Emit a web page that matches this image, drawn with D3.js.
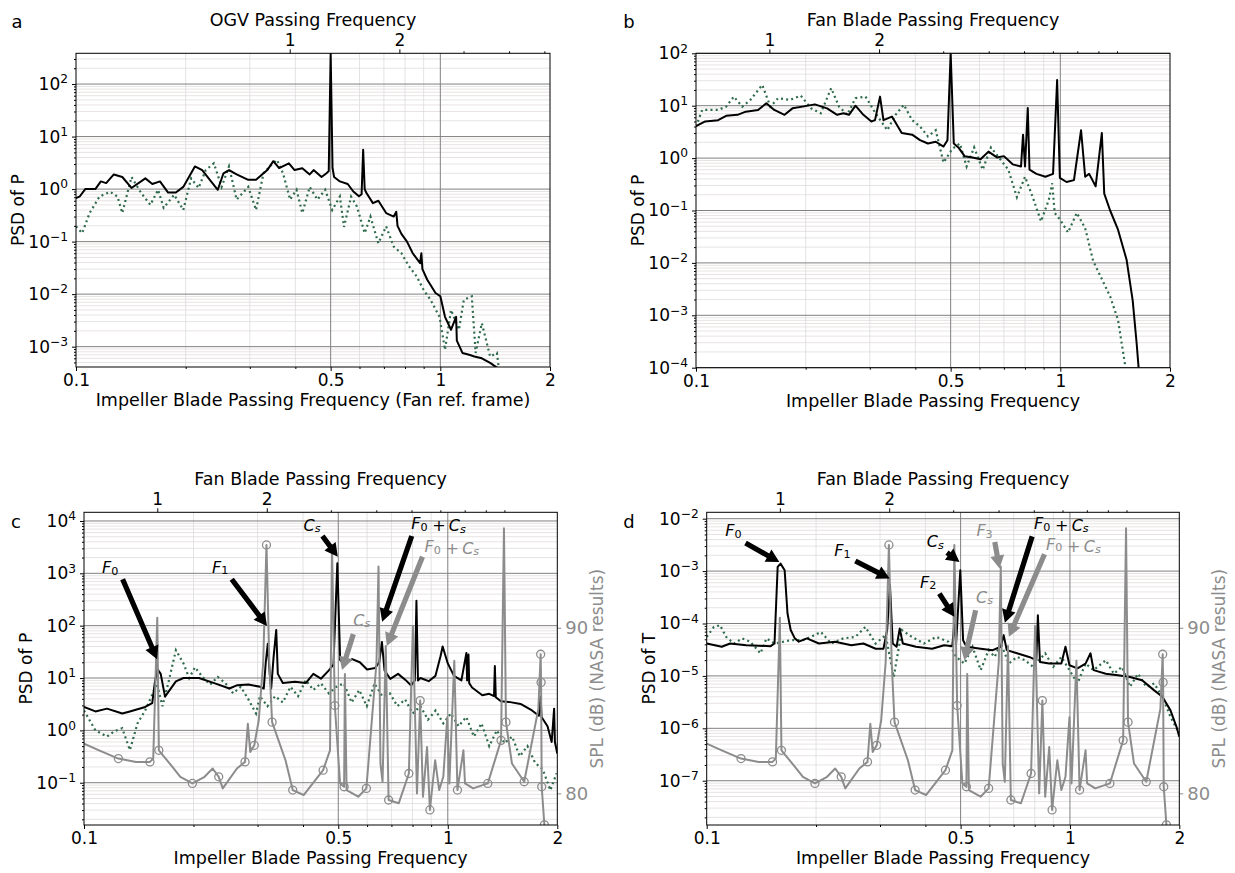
<!DOCTYPE html>
<html>
<head>
<meta charset="utf-8">
<script src="https://cdn.jsdelivr.net/npm/d3@7"></script>
<style>
  body { margin: 0; background: #fff; }
  svg text { font-family: "DejaVu Sans", sans-serif; }
</style>
</head>
<body>
<svg id="chart" width="1235" height="873"></svg>
<script>
// ---- Data: [impeller BPF, value] ----
const psdA_les = [[0.100,0.67],[0.1025,0.73],[0.106,1.0],[0.113,1.0],[0.117,1.4],[0.121,1.3],[0.127,1.9],[0.134,1.7],[0.142,1.05],[0.155,1.6],[0.162,1.25],[0.170,1.4],[0.179,0.86],[0.188,0.86],[0.197,1.1],[0.212,2.7],[0.222,2.3],[0.233,1.5],[0.245,0.97],[0.254,2.0],[0.263,2.3],[0.276,1.9],[0.297,1.5],[0.312,1.5],[0.335,2.3],[0.348,3.4],[0.361,2.5],[0.384,3.1],[0.398,2.3],[0.418,2.5],[0.438,1.9],[0.449,2.3],[0.472,1.7],[0.487,2.0],[0.494,2.2],[0.500,390],[0.506,2.5],[0.511,1.7],[0.530,1.4],[0.557,1.25],[0.577,0.9],[0.598,0.73],[0.608,0.8],[0.614,5.6],[0.620,1.0],[0.627,0.84],[0.653,0.54],[0.676,0.6],[0.710,0.35],[0.745,0.3],[0.757,0.37],[0.763,0.2],[0.782,0.14],[0.81,0.1],[0.84,0.06],[0.88,0.039],[0.887,0.06],[0.893,0.03],[0.92,0.019],[0.97,0.0105],[1.0,0.0091],[1.03,0.0037],[1.07,0.0021],[1.105,0.0037],[1.11,0.0013],[1.15,7.6e-4],[1.2,7e-4],[1.24,6.5e-4],[1.3,6e-4],[1.37,4.9e-4],[1.43,4e-4]];
const psdA_ref = [[0.100,0.195],[0.104,0.145],[0.109,0.35],[0.116,0.72],[0.124,0.89],[0.130,0.72],[0.134,0.35],[0.142,1.7],[0.151,0.84],[0.160,0.5],[0.168,0.97],[0.174,0.44],[0.186,0.78],[0.197,0.4],[0.207,1.6],[0.217,1.05],[0.227,2.3],[0.239,3.1],[0.251,1.1],[0.263,2.7],[0.276,0.63],[0.297,1.1],[0.312,0.4],[0.327,2.0],[0.340,2.7],[0.356,3.6],[0.370,2.0],[0.387,0.63],[0.403,0.97],[0.418,0.35],[0.438,1.1],[0.460,0.63],[0.483,0.97],[0.505,0.4],[0.530,0.72],[0.544,0.19],[0.569,0.72],[0.590,0.47],[0.620,0.145],[0.643,0.3],[0.676,0.093],[0.710,0.195],[0.745,0.08],[0.782,0.06],[0.820,0.034],[0.860,0.022],[0.900,0.012],[0.940,0.0078],[0.995,0.0037],[1.03,8.7e-4],[1.07,0.005],[1.125,0.0021],[1.16,0.0078],[1.22,0.0091],[1.25,7.6e-4],[1.30,0.0028],[1.37,6.5e-4],[1.43,7.6e-4],[1.45,3.5e-4]];

const psdB_les = [[0.100,4.1],[0.106,5.0],[0.115,5.3],[0.121,6.4],[0.130,6.7],[0.137,7.7],[0.148,8.3],[0.156,11.1],[0.164,8.3],[0.175,6.7],[0.184,8.9],[0.196,9.6],[0.212,10.6],[0.229,8.9],[0.244,6.7],[0.254,7.2],[0.263,6.7],[0.274,10],[0.288,6.7],[0.303,5.0],[0.310,5.3],[0.320,14.9],[0.327,5.3],[0.345,6.2],[0.367,3.0],[0.392,2.8],[0.412,2.2],[0.433,1.9],[0.455,2.05],[0.478,1.66],[0.490,2.2],[0.500,100],[0.510,1.9],[0.525,1.6],[0.546,1.09],[0.574,1.03],[0.604,0.95],[0.635,1.33],[0.670,1.03],[0.700,1.09],[0.740,0.76],[0.780,0.69],[0.790,2.8],[0.800,0.69],[0.814,9.0],[0.823,0.6],[0.860,0.5],[0.910,0.44],[0.955,0.5],[0.980,31],[0.997,0.42],[1.04,0.35],[1.09,0.38],[1.14,3.4],[1.17,0.44],[1.20,0.5],[1.25,0.29],[1.30,3.0],[1.32,0.21],[1.37,0.1],[1.44,0.043],[1.52,0.0115],[1.58,0.0019],[1.62,2.9e-4],[1.64,1e-4]];
const psdB_ref = [[0.100,4.0],[0.104,8.3],[0.109,8.3],[0.115,8.3],[0.121,9.6],[0.127,14.9],[0.134,9.6],[0.141,12.9],[0.152,24.9],[0.160,9.6],[0.168,13.9],[0.181,12.9],[0.194,15.5],[0.207,8.9],[0.220,7.2],[0.235,21.6],[0.247,9.6],[0.260,6.7],[0.274,13.9],[0.292,14.9],[0.311,7.2],[0.335,3.4],[0.353,6.7],[0.372,10.4],[0.392,5.3],[0.412,4.0],[0.433,2.6],[0.455,3.4],[0.478,0.82],[0.505,1.5],[0.530,1.9],[0.553,0.69],[0.580,1.6],[0.612,0.6],[0.645,1.6],[0.686,0.93],[0.720,0.6],[0.760,0.18],[0.800,0.44],[0.840,0.18],[0.885,0.062],[0.930,0.16],[0.950,0.33],[0.965,0.09],[1.00,0.066],[1.05,0.038],[1.11,0.09],[1.17,0.046],[1.23,0.011],[1.29,0.0055],[1.37,0.0023],[1.44,8.1e-4],[1.51,1e-4]];

const psdC_les = [[0.100,2.8],[0.1075,2.3],[0.1157,2.6],[0.1274,2.1],[0.1337,2.3],[0.1473,2.8],[0.154,3.3],[0.1565,8],[0.159,15],[0.1625,12],[0.167,4.4],[0.1789,8.6],[0.1877,10],[0.207,10],[0.228,8],[0.251,6.3],[0.264,7.3],[0.283,7.5],[0.305,6.8],[0.312,6.3],[0.316,20],[0.320,45],[0.324,12],[0.327,6.3],[0.332,25],[0.3376,83],[0.341,12],[0.352,8],[0.38,8.5],[0.407,8],[0.427,12],[0.448,9.7],[0.471,14],[0.485,18],[0.497,1550],[0.506,22],[0.518,19],[0.546,23],[0.573,20],[0.6,14.5],[0.631,15.5],[0.648,20],[0.659,49],[0.67,14],[0.695,9.6],[0.73,12],[0.765,9.2],[0.793,7.2],[0.812,9],[0.82,300],[0.828,9],[0.841,10],[0.886,8.7],[0.925,11],[0.955,26],[0.968,40],[1.0,19],[1.04,11],[1.09,9],[1.125,30],[1.13,9],[1.14,28],[1.145,8],[1.166,6.6],[1.244,4.7],[1.30,5],[1.34,4.5],[1.347,17],[1.355,4.3],[1.40,3.6],[1.472,3.5],[1.585,3.2],[1.704,2.4],[1.78,1.9],[1.80,4.4],[1.81,1.8],[1.88,1.2],[1.93,0.6],[1.96,2.6],[1.97,0.6],[2.0,0.36]];
const psdC_ref = [[0.100,2.4],[0.1075,1.0],[0.1157,0.76],[0.1214,0.97],[0.1274,1.1],[0.1337,0.42],[0.1403,1.36],[0.1473,2.4],[0.1546,5.1],[0.1585,7.9],[0.1643,2.9],[0.1704,7.9],[0.1789,34],[0.1877,19],[0.1946,10],[0.2018,16],[0.2118,10.5],[0.2223,7.5],[0.2333,10.5],[0.2449,7.9],[0.257,5.1],[0.2697,6.8],[0.2831,3.9],[0.2971,2.1],[0.3044,4.5],[0.3195,2.9],[0.3353,4.5],[0.352,3.4],[0.3694,6.8],[0.3877,4.5],[0.407,9.1],[0.427,5.9],[0.448,7.9],[0.471,5.1],[0.494,6.8],[0.518,7.9],[0.544,3.4],[0.571,5.9],[0.599,2.9],[0.629,7.9],[0.66,4.5],[0.693,5.1],[0.727,2.9],[0.763,3.9],[0.801,2.1],[0.841,2.9],[0.882,1.6],[0.926,2.4],[0.972,1.36],[1.02,2.1],[1.071,1.2],[1.124,1.8],[1.18,0.76],[1.238,1.36],[1.3,0.5],[1.364,1.0],[1.432,0.57],[1.503,0.76],[1.577,0.32],[1.656,0.5],[1.738,0.24],[1.824,0.18],[1.914,0.072],[1.99,0.15]];

const psdD_les = [[0.100,4.15e-5],[0.110,3.6e-5],[0.116,4.15e-5],[0.1285,3.85e-5],[0.150,3.7e-5],[0.1537,4.15e-5],[0.1568,1.2e-3],[0.1597,1.39e-3],[0.1639,1.04e-3],[0.1669,1.55e-4],[0.1703,7.5e-5],[0.1748,5.2e-5],[0.1793,4.5e-5],[0.1887,5.2e-5],[0.2037,4.15e-5],[0.2257,4.5e-5],[0.2501,3.85e-5],[0.270,4.15e-5],[0.2919,3.3e-5],[0.3066,3.3e-5],[0.3139,7.5e-5],[0.3195,5.4e-4],[0.3252,4.15e-5],[0.3332,3.6e-5],[0.3399,8e-5],[0.3467,4.15e-5],[0.3767,3.6e-5],[0.4174,3.3e-5],[0.4505,3.85e-5],[0.4743,3.7e-5],[0.4803,1e-4],[0.486,4.15e-5],[0.499,1.04e-3],[0.508,4.8e-5],[0.519,3.6e-5],[0.568,3.3e-5],[0.613,3.1e-5],[0.645,3.6e-5],[0.657,6e-5],[0.670,3.1e-5],[0.715,2.7e-5],[0.772,2.3e-5],[0.808,2.0e-5],[0.816,1.44e-4],[0.827,1.85e-5],[0.877,1.72e-5],[0.947,1.72e-5],[0.972,3.6e-5],[0.997,1.6e-5],[1.049,1.39e-5],[1.104,1.72e-5],[1.139,2.7e-5],[1.162,1.29e-5],[1.255,1.1e-5],[1.355,1.03e-5],[1.463,9.5e-6],[1.58,8.3e-6],[1.706,5.3e-6],[1.797,4e-6],[1.891,2.2e-6],[1.965,1.07e-6],[2.0,6.9e-7]];
const psdD_ref = [[0.100,5.56e-5],[0.1047,8.6e-5],[0.1088,9.3e-5],[0.1131,5.56e-5],[0.119,4.15e-5],[0.1253,5.2e-5],[0.1318,4.5e-5],[0.1406,2.7e-5],[0.1461,5.2e-5],[0.1537,4.15e-5],[0.1703,4.8e-5],[0.1839,4.8e-5],[0.1936,5.56e-5],[0.2063,6.9e-5],[0.2201,4.15e-5],[0.2376,5.2e-5],[0.2566,5.56e-5],[0.2735,8.6e-5],[0.2916,4.15e-5],[0.3109,6e-5],[0.3272,9.5e-6],[0.3444,7.5e-5],[0.3671,5.56e-5],[0.3965,4.15e-5],[0.4281,5.56e-5],[0.4624,4.5e-5],[0.486,2.3e-5],[0.5122,1.72e-5],[0.5391,3.6e-5],[0.568,1.29e-5],[0.5973,3.1e-5],[0.6206,2.3e-5],[0.645,4.15e-5],[0.679,1.72e-5],[0.715,2.3e-5],[0.752,2e-5],[0.7916,1.49e-5],[0.8547,2.7e-5],[0.8997,1.49e-5],[0.947,2.3e-5],[0.997,1.29e-5],[1.049,7.2e-6],[1.104,1.72e-5],[1.162,1.29e-5],[1.255,2e-5],[1.321,1.1e-5],[1.39,1.49e-5],[1.463,6.2e-6],[1.54,1.1e-5],[1.622,6.2e-6],[1.706,7.2e-6],[1.797,4e-6],[1.891,1.66e-6],[2.0,7.9e-7]];

// NASA SPL (dB), right axis of c and d
const nasaSpl = [[0.100,83.0],[0.110,82.6],[0.1243,82.1],[0.139,81.9],[0.1518,81.9],[0.155,82.1],[0.159,90.6],[0.1606,82.6],[0.175,81.6],[0.184,81.0],[0.1986,80.6],[0.2145,81.0],[0.2258,81.5],[0.2346,81.0],[0.2407,80.3],[0.2632,81.5],[0.2771,81.9],[0.2821,84.2],[0.2864,82.5],[0.2938,82.9],[0.3022,84.4],[0.3109,87.9],[0.3174,95.0],[0.3231,87.9],[0.3289,84.3],[0.358,82.0],[0.3748,80.2],[0.4016,79.9],[0.4542,81.4],[0.4745,82.6],[0.4805,95.0],[0.4892,85.3],[0.5057,80.6],[0.5188,80.4],[0.5214,87.2],[0.527,80.2],[0.5675,79.8],[0.5973,80.3],[0.6368,87.9],[0.645,93.7],[0.653,81.8],[0.6617,80.7],[0.6753,88.9],[0.6876,79.6],[0.733,79.4],[0.7816,81.2],[0.8017,90.1],[0.8228,80.0],[0.8396,85.6],[0.8547,79.8],[0.877,82.8],[0.8929,79.0],[0.9231,82.0],[0.947,80.2],[0.972,81.0],[0.997,84.6],[1.01,80.6],[1.042,88.0],[1.063,80.2],[1.104,82.6],[1.115,80.6],[1.174,80.3],[1.288,80.6],[1.401,83.2],[1.427,96.0],[1.445,84.3],[1.501,81.8],[1.622,80.7],[1.774,85.1],[1.800,88.4],[1.805,86.7],[1.812,80.4],[1.843,78.1],[1.87,77.0]];
const nasaMarked = [0.1243,0.1518,0.1606,0.1986,0.2346,0.2771,0.2938,0.3174,0.3289,0.3748,0.4542,0.4892,0.5188,0.5973,0.6876,0.7816,0.8396,0.8929,1.063,1.288,1.401,1.445,1.622,1.800,1.805,1.812,1.843];

// tick labels
const xTickVals = [0.1, 0.5, 1, 2];
const xTickLabels = ['0.1', '0.5', '1', '2'];
const xMinorVals = [0.2, 0.3, 0.4, 0.6, 0.7, 0.8, 0.9];
const topLabels = [1, 2];
const fanBpf = 0.159;   // fan BPF in impeller-BPF units
const ogvBpf = 0.386;   // OGV passing frequency in impeller-BPF units

// annotations: [label, colour, text pos, arrow tail, arrow head] in data coords
const notesC = [
  ['F0', 'k', [0.118, 1306], [0.1277, 770], [0.1588, 22.8]],
  ['F1', 'k', [0.2368, 1340], [0.2547, 770], [0.3185, 98.6]],
  ['Cs', 'k', [0.4236, 8400], [0.4524, 5160], [0.4984, 2080]],
  ['F0+Cs', 'k', [0.943, 9040], [0.796, 5160], [0.660, 119]],
  ['F0+Cs', 'g', [1.026, 3300], [0.852, 2080], [0.680, 41]],
  ['Cs', 'g', [0.58, 128], [0.55, 69], [0.512, 14.3]]
];
const notesD = [
  ['F0', 'k', [0.1185, 5.98e-3], [0.1279, 3.43e-3], [0.1585, 1.49e-3]],
  ['F1', 'k', [0.2364, 2.49e-3], [0.2566, 1.56e-3], [0.319, 7.2e-4]],
  ['Cs', 'k', [0.426, 3.7e-3], [0.4587, 2.25e-3], [0.4966, 1.49e-3]],
  ['F2', 'k', [0.407, 6.2e-4], [0.437, 3.73e-4], [0.4805, 1.34e-4]],
  ['F3', 'g', [0.582, 5.98e-3], [0.621, 3.58e-3], [0.64, 1.12e-3]],
  ['F0+Cs', 'k', [0.947, 8.2e-3], [0.787, 4.6e-3], [0.662, 1.03e-4]],
  ['F0+Cs', 'g', [1.022, 3.3e-3], [0.851, 2.09e-3], [0.679, 5.56e-5]],
  ['Cs', 'g', [0.582, 3.2e-4], [0.55, 1.79e-4], [0.512, 2.0e-5]]
];

// ---- Drawing ----
const svg = d3.select('#chart');
const colBlack = '#000', colGreen = '#2f6b4c', colGray = '#8c8c8c';
const fs = 17;

function supLabel(sel, d) {
  const e = Math.round(Math.log10(d));
  sel.text(null);
  sel.append('tspan').text('10');
  sel.append('tspan').attr('dy', '-0.55em').attr('font-size', '0.72em')
     .text(e < 0 ? '\u2212' + Math.abs(e) : e);
}

function mathText(g, x, y, key, color) {
  const t = g.append('text').attr('x', x).attr('y', y)
    .attr('text-anchor', 'middle').attr('dominant-baseline', 'central')
    .attr('font-size', 16).attr('fill', color);
  const sym = (c, s) => {
    t.append('tspan').attr('font-style', 'italic').text(c);
    t.append('tspan').attr('dy', '0.3em').attr('font-size', '0.7em')
      .attr('font-style', s === 's' ? 'italic' : 'normal').text(s);
    t.append('tspan').attr('dy', '-0.3em').attr('font-size', '0.3em').text(' ');
  };
  if (key === 'F0+Cs') { sym('F', '0'); t.append('tspan').text('\u2009+\u2009'); sym('C', 's'); }
  else sym(key[0], key[1]);
}

function arrow(g, x1, y1, x2, y2, color) {
  const dx = x2 - x1, dy = y2 - y1, L = Math.hypot(dx, dy);
  const ux = dx / L, uy = dy / L, nx = -uy, ny = ux;
  const hw = 2.6, hh = 7, hl = 13;
  const bx = x2 - ux * hl, by = y2 - uy * hl;
  const pts = [[x1 + nx * hw, y1 + ny * hw], [bx + nx * hw, by + ny * hw], [bx + nx * hh, by + ny * hh],
               [x2, y2], [bx - nx * hh, by - ny * hh], [bx - nx * hw, by - ny * hw], [x1 - nx * hw, y1 - ny * hw]];
  g.append('polygon').attr('points', pts.map(p => p.join(',')).join(' ')).attr('fill', color);
}

function drawPanel(p) {
  const x = d3.scaleLog().domain([0.1, 2]).range([p.left, p.left + p.width]);
  const y = d3.scaleLog().domain(p.yDomain).range([p.top + p.height, p.top]);
  const g = svg.append('g');
  const clipId = 'clip-' + p.letter;
  svg.append('clipPath').attr('id', clipId).append('rect')
    .attr('x', p.left).attr('y', p.top).attr('width', p.width).attr('height', p.height);

  // y grid values
  const yMajor = [], yMinor = [];
  const e0 = Math.floor(Math.log10(p.yDomain[0])), e1 = Math.ceil(Math.log10(p.yDomain[1]));
  for (let e = e0; e <= e1; e++) {
    const base = +('1e' + e);
    if (base >= p.yDomain[0] * 0.999 && base <= p.yDomain[1] * 1.001) yMajor.push(base);
    for (let m = 2; m <= 9; m++) {
      const v = +(m + 'e' + e);
      if (v > p.yDomain[0] && v < p.yDomain[1]) yMinor.push(v);
    }
  }

  const grid = g.append('g');
  grid.selectAll('.hmin').data(yMinor).enter().append('line')
    .attr('x1', p.left).attr('x2', p.left + p.width)
    .attr('y1', d => y(d)).attr('y2', d => y(d))
    .attr('stroke', '#e2dcdc').attr('stroke-width', 0.8);
  grid.selectAll('.vmin').data(xMinorVals).enter().append('line')
    .attr('y1', p.top).attr('y2', p.top + p.height)
    .attr('x1', d => x(d)).attr('x2', d => x(d))
    .attr('stroke', '#dcdcdc').attr('stroke-width', 0.8);
  grid.selectAll('.hmaj').data(yMajor).enter().append('line')
    .attr('x1', p.left).attr('x2', p.left + p.width)
    .attr('y1', d => y(d)).attr('y2', d => y(d))
    .attr('stroke', '#808080').attr('stroke-width', 1);
  grid.selectAll('.vmaj').data([0.5, 1]).enter().append('line')
    .attr('y1', p.top).attr('y2', p.top + p.height)
    .attr('x1', d => x(d)).attr('x2', d => x(d))
    .attr('stroke', '#808080').attr('stroke-width', 1);

  // series
  const line = d3.line().x(d => x(d[0])).y(d => y(d[1]));
  const plot = g.append('g').attr('clip-path', `url(#${clipId})`);
  plot.append('path').datum(p.ref).attr('d', line).attr('fill', 'none')
    .attr('stroke', colGreen).attr('stroke-width', 2.2).attr('stroke-dasharray', '2,3.2');
  plot.append('path').datum(p.les).attr('d', line).attr('fill', 'none')
    .attr('stroke', colBlack).attr('stroke-width', 2).attr('stroke-linejoin', 'round');

  if (p.nasa) {
    const yr = d3.scaleLinear().domain([78.09, 96.97]).range([p.top + p.height, p.top]);
    const lineR = d3.line().x(d => x(d[0])).y(d => yr(d[1]));
    plot.append('path').datum(nasaSpl).attr('d', lineR).attr('fill', 'none')
      .attr('stroke', colGray).attr('stroke-width', 2).attr('stroke-linejoin', 'round');
    plot.selectAll('.mk').data(nasaSpl.filter(d => nasaMarked.includes(d[0]))).enter()
      .append('circle').attr('cx', d => x(d[0])).attr('cy', d => yr(d[1])).attr('r', 4)
      .attr('fill', 'none').attr('stroke', colGray).attr('stroke-width', 1.3);

    const ra = g.append('g').attr('transform', `translate(${p.left + p.width},0)`)
      .call(d3.axisRight(yr).tickValues([80, 90]).tickSize(4).tickPadding(4).tickSizeOuter(0));
    ra.select('.domain').remove();
    ra.selectAll('text').attr('font-size', fs + 1).attr('fill', colGray).attr('font-family', 'DejaVu Sans');
    ra.selectAll('line').attr('stroke', colGray);
    g.append('text').attr('transform', `translate(${p.left + p.width + 40},${p.top + p.height / 2}) rotate(-90)`)
      .attr('text-anchor', 'middle').attr('dominant-baseline', 'central')
      .attr('font-size', fs).attr('fill', colGray).text('SPL (dB) (NASA results)');
  }

  // frame
  g.append('rect').attr('x', p.left).attr('y', p.top).attr('width', p.width).attr('height', p.height)
    .attr('fill', 'none').attr('stroke', '#000').attr('stroke-width', 1);

  // left axis
  const la = g.append('g').attr('transform', `translate(${p.left},0)`)
    .call(d3.axisLeft(y).tickValues(yMajor).tickSize(4).tickPadding(4).tickSizeOuter(0));
  la.select('.domain').remove();
  la.selectAll('text').attr('font-size', fs).attr('font-family', 'DejaVu Sans').each(function (d) { supLabel(d3.select(this), d); });
  const lm = g.append('g').attr('transform', `translate(${p.left},0)`)
    .call(d3.axisLeft(y).tickValues(yMinor).tickSize(2).tickFormat(''));
  lm.select('.domain').remove();

  // bottom axis
  const ba = g.append('g').attr('transform', `translate(0,${p.top + p.height})`)
    .call(d3.axisBottom(x).tickValues(xTickVals).tickFormat((d, i) => xTickLabels[i]).tickSize(4).tickPadding(3).tickSizeOuter(0));
  ba.select('.domain').remove();
  ba.selectAll('text').attr('font-size', fs).attr('font-family', 'DejaVu Sans');
  const bm = g.append('g').attr('transform', `translate(0,${p.top + p.height})`)
    .call(d3.axisBottom(x).tickValues(xMinorVals).tickSize(2).tickFormat(''));
  bm.select('.domain').remove();

  // top axis
  const topVals = topLabels.map(n => n * p.topBpf);
  const ta = g.append('g').attr('transform', `translate(0,${p.top})`)
    .call(d3.axisTop(x).tickValues(topVals).tickFormat((d, i) => topLabels[i]).tickSize(4).tickPadding(3).tickSizeOuter(0));
  ta.select('.domain').remove();
  ta.selectAll('text').attr('font-size', fs).attr('font-family', 'DejaVu Sans');
  const topMinor = [3, 4, 5, 6, 7, 8, 9].map(n => n * p.topBpf).filter(v => v < 2);
  const tm = g.append('g').attr('transform', `translate(0,${p.top})`)
    .call(d3.axisTop(x).tickValues(topMinor).tickSize(2).tickFormat(''));
  tm.select('.domain').remove();

  // labels
  g.append('text').attr('x', p.left + p.width / 2).attr('y', p.top - 27)
    .attr('text-anchor', 'middle').attr('font-size', fs + 0.5).text(p.topTitle);
  g.append('text').attr('x', p.left + p.width / 2).attr('y', p.top + p.height + 39)
    .attr('text-anchor', 'middle').attr('font-size', fs + 0.5).text(p.xTitle);
  g.append('text').attr('transform', `translate(${p.left - 58},${p.top + p.height / 2}) rotate(-90)`)
    .attr('text-anchor', 'middle').attr('dominant-baseline', 'central')
    .attr('font-size', fs).text(p.yTitle);
  g.append('text').attr('x', p.letterPos[0]).attr('y', p.letterPos[1])
    .attr('text-anchor', 'middle').attr('font-size', fs + 1).text(p.letter);

  // annotations
  (p.notes || []).forEach(n => {
    const col = n[1] === 'k' ? colBlack : colGray;
    arrow(g, x(n[3][0]), y(n[3][1]), x(n[4][0]), y(n[4][1]), col);
    mathText(g, x(n[2][0]), y(n[2][1]), n[0], col);
  });
}

drawPanel({ letter: 'a', letterPos: [17, 28], left: 76, top: 53.3, width: 474, height: 313.7,
  yDomain: [4.1e-4, 385], les: psdA_les, ref: psdA_ref, topBpf: ogvBpf,
  topTitle: 'OGV Passing Frequency', xTitle: 'Impeller Blade Passing Frequency (Fan ref. frame)', yTitle: 'PSD of P' });
drawPanel({ letter: 'b', letterPos: [629, 28], left: 696, top: 53.3, width: 474, height: 314.4,
  yDomain: [1e-4, 100], les: psdB_les, ref: psdB_ref, topBpf: fanBpf,
  topTitle: 'Fan Blade Passing Frequency', xTitle: 'Impeller Blade Passing Frequency', yTitle: 'PSD of P' });
drawPanel({ letter: 'c', letterPos: [16, 528], left: 84, top: 512.3, width: 473.3, height: 312.7,
  yDomain: [0.01556, 14650], les: psdC_les, ref: psdC_ref, topBpf: fanBpf, nasa: true, notes: notesC,
  topTitle: 'Fan Blade Passing Frequency', xTitle: 'Impeller Blade Passing Frequency', yTitle: 'PSD of P' });
drawPanel({ letter: 'd', letterPos: [629, 528], left: 706.7, top: 512.3, width: 472.6, height: 312.7,
  yDomain: [1.43e-8, 0.01324], les: psdD_les, ref: psdD_ref, topBpf: fanBpf, nasa: true, notes: notesD,
  topTitle: 'Fan Blade Passing Frequency', xTitle: 'Impeller Blade Passing Frequency', yTitle: 'PSD of T' });
</script>
</body>
</html>
